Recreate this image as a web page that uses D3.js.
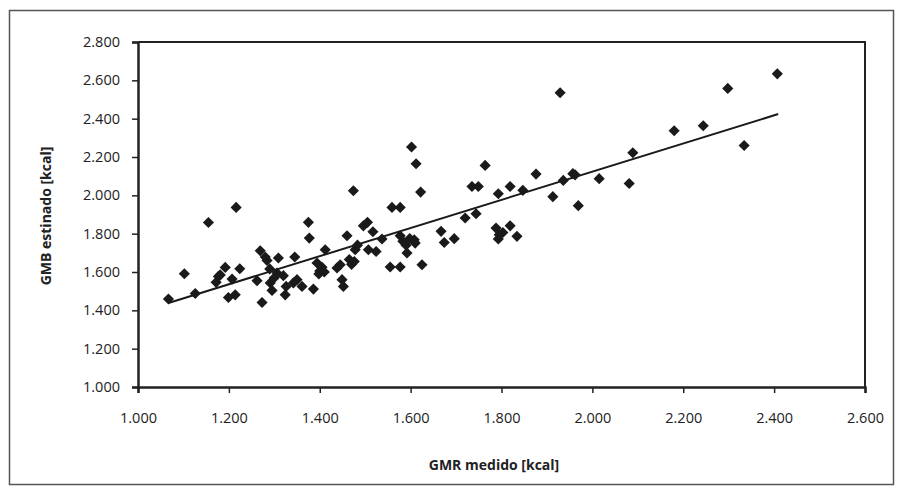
<!DOCTYPE html>
<html>
<head>
<meta charset="utf-8">
<script src="https://cdn.jsdelivr.net/npm/d3@7"></script>
<style>
  body { margin: 0; background: #fff; }
  svg { display: block; font-family: "Open Sans", "Liberation Sans", sans-serif; }
  .tick text { fill: #222; font-size: 14.5px; }
  .axis-label { fill: #222; font-size: 14px; font-weight: bold; }
</style>
</head>
<body>
<div id="chart-area"></div>
<script>
// GMR medido [kcal] (x) and GMB estimado [kcal] (y)
var gmrMedido = [
  1067, 1102, 1126, 1155, 1172, 1177, 1181, 1192, 1199, 1207, 1214, 1216, 1224,
  1262, 1269, 1273, 1280, 1284, 1290, 1291, 1295, 1300, 1306, 1309, 1320, 1326,
  1324, 1345, 1350, 1342, 1361, 1375, 1377, 1386, 1394, 1400, 1405, 1398, 1412,
  1410, 1438, 1445, 1449, 1452, 1460, 1465, 1470, 1474, 1476, 1478, 1483, 1496,
  1505, 1507, 1517, 1524, 1537, 1555, 1559, 1577, 1577, 1577, 1583, 1590, 1592,
  1598, 1602, 1608, 1610, 1612, 1622, 1625, 1667, 1674, 1696, 1720, 1735, 1744,
  1749, 1764, 1788, 1793, 1795, 1793, 1803, 1819, 1819, 1834, 1847, 1876, 1913,
  1929, 1936, 1957, 1962, 1969, 2015, 2081, 2089, 2180, 2244, 2298, 2334, 2407
];
var gmbEstimado = [
  1459, 1591, 1488, 1858, 1546, 1577, 1585, 1624, 1467, 1563, 1481, 1937, 1617,
  1555, 1711, 1441, 1678, 1660, 1616, 1543, 1504, 1570, 1595, 1673, 1581, 1525,
  1481, 1678, 1560, 1543, 1525, 1859, 1777, 1511, 1647, 1605, 1625, 1590, 1716,
  1600, 1621, 1638, 1560, 1525, 1789, 1665, 1640, 2024, 1655, 1716, 1740, 1841,
  1859, 1716, 1810, 1707, 1772, 1626, 1937, 1937, 1789, 1626, 1760, 1740, 1699,
  1775, 2252, 1768, 1751, 2165, 2017, 1638, 1812, 1754, 1774, 1882, 2046, 1904,
  2046, 2156, 1829, 1772, 1794, 2008, 1806, 2046, 1841, 1786, 2026, 2111, 1993,
  2535, 2078, 2113, 2107, 1946, 2087, 2062, 2222, 2337, 2363, 2558, 2260, 2634
];
// fitted line end points
var lineX = [1067, 2409];
var lineY = [1438, 2424];

var xTicks = [1000, 1200, 1400, 1600, 1800, 2000, 2200, 2400, 2600];
var yTicks = [1000, 1200, 1400, 1600, 1800, 2000, 2200, 2400, 2600, 2800];

var margin = { top: 42, bottom: 106, left: 138, right: 37 };
var width = 902 - margin.left - margin.right;
var height = 493 - margin.top - margin.bottom;

var locale = d3.formatLocale({ decimal: ',', thousands: '.', grouping: [3], currency: ['', ''] });
var fmt = locale.format(',.0f');

var svg = d3.select('#chart-area').append('svg')
  .attr('width', 902)
  .attr('height', 493);

// outer frame
svg.append('rect')
  .attr('x', 9.5).attr('y', 10.5)
  .attr('width', 884).attr('height', 474)
  .attr('fill', 'none')
  .attr('stroke', '#555')
  .attr('stroke-width', 1.5);

var g = svg.append('g').attr('transform', `translate(${margin.left}, ${margin.top})`);

var x = d3.scaleLinear().domain([1000, 2600]).range([0, width]);
var y = d3.scaleLinear().domain([1000, 2800]).range([height, 0]);

// plot area border (top / right)
g.append('path')
  .attr('d', `M0,0H${width}V${height}`)
  .attr('fill', 'none')
  .attr('stroke', '#222')
  .attr('stroke-width', 2);

var xAxis = g.append('g')
  .attr('transform', `translate(0, ${height})`)
  .call(d3.axisBottom(x).tickValues(xTicks).tickFormat(fmt).tickSize(6).tickPadding(20));

var yAxis = g.append('g')
  .call(d3.axisLeft(y).tickValues(yTicks).tickFormat(fmt).tickSize(6).tickPadding(12));

[xAxis, yAxis].forEach(a => {
  a.attr('font-size', null).attr('font-family', null);
  a.select('.domain').attr('stroke', '#222').attr('stroke-width', 2.5);
  a.selectAll('.tick line').attr('stroke', '#222').attr('stroke-width', 1.5);
});

// fitted line
var pts = lineX.map((v, i) => [v, lineY[i]]);
g.append('path')
  .datum(pts)
  .attr('fill', 'none')
  .attr('stroke', '#1a1a1a')
  .attr('stroke-width', 2)
  .attr('d', d3.line().x(d => x(d[0])).y(d => y(d[1])));

// diamonds
var data = gmrMedido.map((v, i) => ({ x: v, y: gmbEstimado[i] }));
var diamond = d3.symbol().type(d3.symbolSquare).size(62);
g.selectAll('.pt').data(data).enter()
  .append('path')
  .attr('class', 'pt')
  .attr('d', diamond)
  .attr('fill', '#1a1a1a')
  .attr('transform', d => `translate(${x(d.x)}, ${y(d.y)}) rotate(45)`);

// axis titles
svg.append('text')
  .attr('class', 'axis-label')
  .attr('x', 494)
  .attr('y', 470)
  .attr('text-anchor', 'middle')
  .text('GMR medido [kcal]');

svg.append('text')
  .attr('class', 'axis-label')
  .attr('transform', 'translate(51, 216) rotate(-90)')
  .attr('text-anchor', 'middle')
  .text('GMB estinado [kcal]');
</script>
</body>
</html>
